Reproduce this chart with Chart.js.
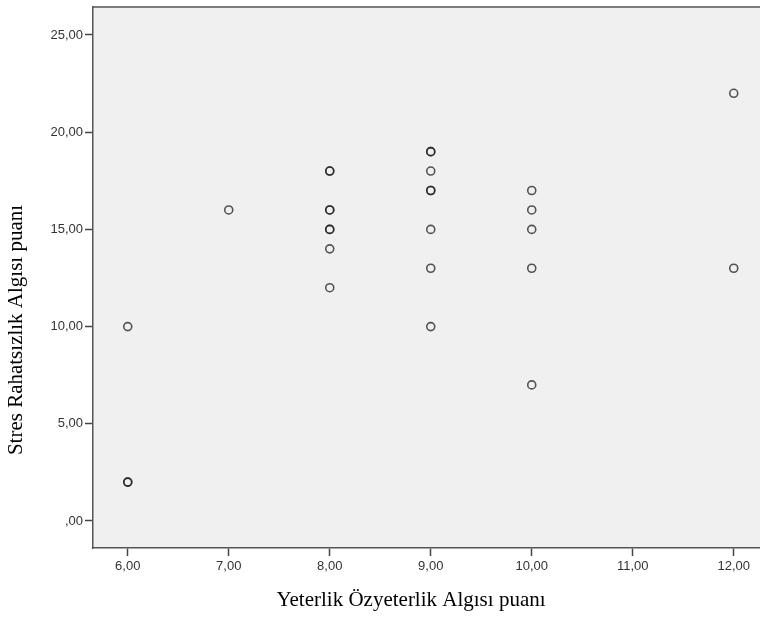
<!DOCTYPE html>
<html>
<head>
<meta charset="utf-8">
<script src="https://cdn.jsdelivr.net/npm/chart.js@4/dist/chart.umd.min.js"></script>
<style>
  html, body { margin: 0; padding: 0; background: #fff; }
  #kutu { width: 760px; height: 619px; }
</style>
</head>
<body>
<div id="kutu"><canvas id="grafik"></canvas></div>
<script>
// veriler (tekrar eden noktalar iki kez yazildi, daha koyu gorunsun diye)
const yeterlik = [6, 6, 6, 7, 8, 8, 8, 8, 8, 8, 8, 8, 9, 9, 9, 9, 9, 9, 9, 9, 10, 10, 10, 10, 10, 12, 12];
const stres    = [10, 2, 2, 16, 18, 18, 16, 16, 15, 15, 14, 12, 19, 19, 18, 17, 17, 15, 13, 10, 17, 16, 15, 13, 7, 22, 13];
const xTikler = [6, 7, 8, 9, 10, 11, 12];
const yTikler = [0, 5, 10, 15, 20, 25];
const xBaslik = 'Yeterlik Özyeterlik Algısı puanı';
const yBaslik = 'Stres Rahatsızlık Algısı puanı';

function virgullu(v) {
    let s = Number(v).toFixed(2).replace('.', ',');
    if (s.startsWith('0,')) s = s.substring(1);
    return s;
}

const noktalar = yeterlik.map((x, i) => ({ x: x, y: stres[i] }));

// arka plan + ust cizgi + eksen basliklari
const cerceve = {
    id: 'cerceve',
    beforeDraw(chart) {
        const c = chart.ctx, a = chart.chartArea;
        c.save();
        c.fillStyle = '#f0f0f0';
        c.fillRect(a.left, a.top, a.right - a.left, a.bottom - a.top);
        c.restore();
    },
    afterDraw(chart) {
        const c = chart.ctx, a = chart.chartArea;
        c.save();
        c.strokeStyle = '#555';
        c.lineWidth = 1.5;
        c.beginPath();
        c.moveTo(a.left, a.top);
        c.lineTo(a.right, a.top);
        c.stroke();

        c.fillStyle = '#000';
        c.font = '21px "Liberation Serif", "Times New Roman", serif';
        c.textAlign = 'center';
        c.textBaseline = 'middle';
        c.fillText(xBaslik, a.left + 318, a.bottom + 52);

        c.translate(16, a.top + 323);
        c.rotate(-Math.PI / 2);
        c.fillText(yBaslik, 0, 0);
        c.restore();
    }
};

new Chart(document.getElementById('grafik'), {
    type: 'scatter',
    data: {
        datasets: [{
            data: noktalar,
            pointStyle: 'circle',
            pointRadius: 4,
            pointBorderWidth: 1.6,
            pointBackgroundColor: 'rgba(0,0,0,0)',
            pointBorderColor: 'rgba(30,30,30,0.75)'
        }]
    },
    options: {
        responsive: true,
        maintainAspectRatio: false,
        animation: false,
        layout: { autoPadding: false, padding: { top: 7, right: 0, left: 0, bottom: 0 } },
        plugins: { legend: { display: false }, tooltip: { enabled: false } },
        scales: {
            x: {
                type: 'linear',
                min: 5.656,
                max: 12.26,
                afterBuildTicks(ax) { ax.ticks = xTikler.map(v => ({ value: v })); },
                afterFit(ax) { ax.height = 71; ax.paddingLeft = 0; ax.paddingRight = 0; },
                ticks: {
                    callback: v => virgullu(v),
                    color: '#333',
                    font: { family: '"Liberation Sans", Arial, sans-serif', size: 13 },
                    padding: 3,
                    maxRotation: 0
                },
                grid: { drawOnChartArea: false, drawTicks: true, tickLength: 8, color: '#444', tickWidth: 1.5 },
                border: { color: '#555', width: 1.5 }
            },
            y: {
                type: 'linear',
                min: -1.39,
                max: 26.44,
                afterBuildTicks(ax) { ax.ticks = yTikler.map(v => ({ value: v })); },
                afterFit(ax) { ax.width = 93; ax.paddingTop = 0; ax.paddingBottom = 0; },
                ticks: {
                    callback: v => virgullu(v),
                    color: '#333',
                    font: { family: '"Liberation Sans", Arial, sans-serif', size: 13 },
                    padding: 2
                },
                grid: { drawOnChartArea: false, drawTicks: true, tickLength: 8, color: '#444', tickWidth: 1.5 },
                border: { color: '#555', width: 1.5 }
            }
        }
    },
    plugins: [cerceve]
});
</script>
</body>
</html>
